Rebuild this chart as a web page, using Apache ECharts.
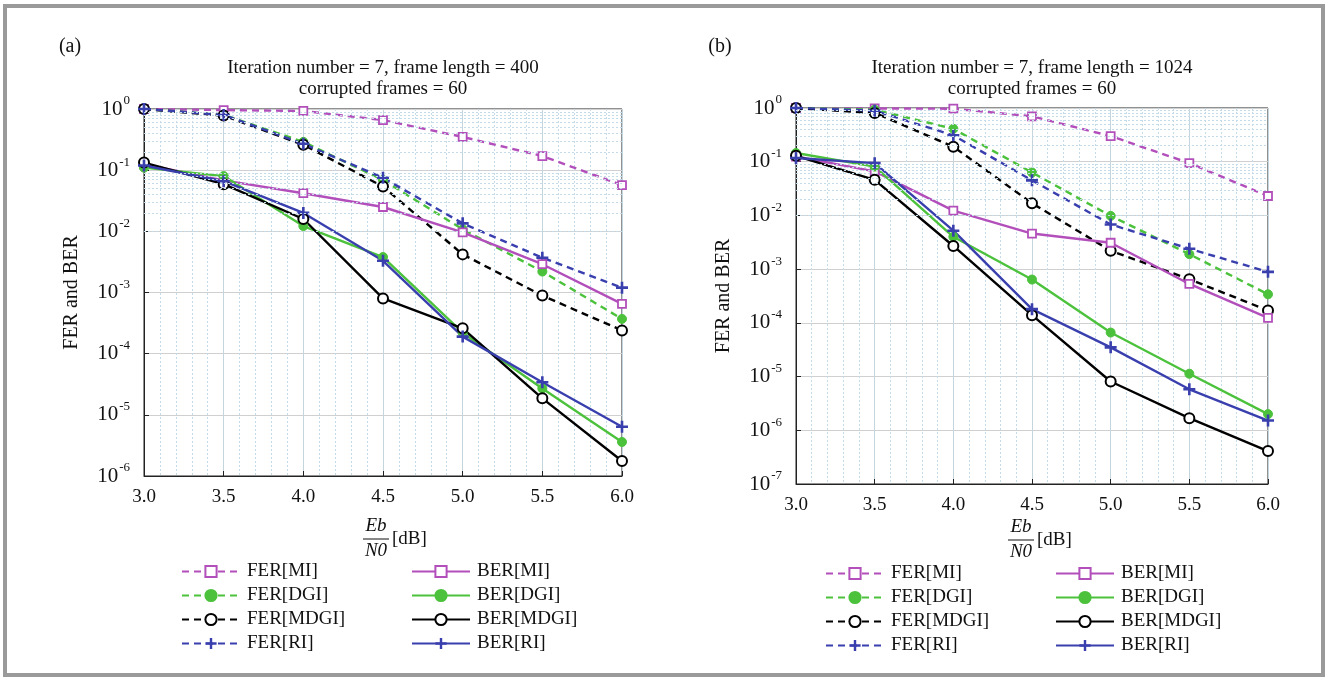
<!DOCTYPE html>
<html>
<head>
<meta charset="utf-8">
<script src="https://cdn.jsdelivr.net/npm/echarts@6/dist/echarts.min.js"></script>
<style>
  html, body { margin: 0; padding: 0; background: #fff; }
  #main { width: 1329px; height: 680px; }
</style>
</head>
<body>
<div id="main"></div>
<script>
// Eb/N0 in dB
var snr = [3.0, 3.5, 4.0, 4.5, 5.0, 5.5, 6.0];

// (a) frame length = 400
var aFerMI   = [1.0, 0.96, 0.93, 0.66, 0.35, 0.17, 0.057];
var aFerDGI  = [1.0, 0.80, 0.29, 0.069, 0.0108, 0.0022, 3.7e-4];
var aFerMDGI = [1.0, 0.78, 0.26, 0.054, 0.0042, 8.9e-4, 2.4e-4];
var aFerRI   = [1.0, 0.80, 0.27, 0.075, 0.0135, 0.0037, 0.0012];
var aBerMI   = [0.125, 0.068, 0.042, 0.025, 0.0096, 0.0029, 6.5e-4];
var aBerDGI  = [0.11, 0.080, 0.0122, 0.0038, 2.2e-4, 2.7e-5, 3.6e-6];
var aBerMDGI = [0.133, 0.059, 0.0159, 8.0e-4, 2.6e-4, 1.86e-5, 1.76e-6];
var aBerRI   = [0.119, 0.066, 0.020, 0.0033, 1.9e-4, 3.4e-5, 6.4e-6];

// (b) frame length = 1024
var bFerMI   = [1.0, 0.98, 0.97, 0.70, 0.30, 0.094, 0.023];
var bFerDGI  = [1.0, 0.93, 0.41, 0.063, 0.0098, 0.0019, 3.4e-4];
var bFerMDGI = [1.0, 0.81, 0.19, 0.0169, 0.0022, 6.5e-4, 1.7e-4];
var bFerRI   = [1.0, 0.89, 0.31, 0.045, 0.0068, 0.0024, 8.9e-4];
var bBerMI   = [0.125, 0.066, 0.0123, 0.0046, 0.0031, 5.3e-4, 1.24e-4];
var bBerDGI  = [0.145, 0.081, 0.0040, 6.4e-4, 6.6e-5, 1.13e-5, 2.0e-6];
var bBerMDGI = [0.129, 0.046, 0.0027, 1.39e-4, 8.1e-6, 1.68e-6, 4.1e-7];
var bBerRI   = [0.117, 0.094, 0.0052, 1.8e-4, 3.5e-5, 5.8e-6, 1.52e-6];

var ferNames = ['FER[MI]', 'FER[DGI]', 'FER[MDGI]', 'FER[RI]'];
var berNames = ['BER[MI]', 'BER[DGI]', 'BER[MDGI]', 'BER[RI]'];

var serif = 'Liberation Serif';
var magenta = '#b24fbb', green = '#4cc23c', black = '#000000', blue = '#3a3fae';
var plusPath = 'path://M-1.3,-6 h2.6 v4.7 h4.7 v2.6 h-4.7 v4.7 h-2.6 v-4.7 h-4.7 v-2.6 h4.7 z';

var styles = {
  MI:   { color: magenta, symbol: 'rect', size: 8, fill: '#ffffff', bw: 1.8 },
  DGI:  { color: green, symbol: 'circle', size: 9, fill: green, bw: 1 },
  MDGI: { color: black, symbol: 'circle', size: 10, fill: '#ffffff', bw: 2 },
  RI:   { color: blue, symbol: plusPath, size: 12, fill: blue, bw: 0 }
};

function pairs(vals) {
  return snr.map(function (x, i) { return [x, vals[i]]; });
}

function line(name, key, vals, dashed, idx) {
  var s = styles[key];
  return {
    name: name,
    type: 'line',
    xAxisIndex: idx,
    yAxisIndex: idx,
    data: pairs(vals),
    symbol: s.symbol,
    symbolSize: s.size,
    showAllSymbol: true,
    color: s.color,
    itemStyle: { color: s.fill, borderColor: s.color, borderWidth: s.bw },
    lineStyle: { color: s.color, width: 2.4, type: dashed ? [7, 5] : 'solid' },
    emphasis: { disabled: true },
    z: dashed ? 3 : 4
  };
}

// dotted minor grid at 2..9 of each decade
function minorLines(lo) {
  var out = [];
  for (var e = lo; e < 0; e++) {
    for (var m = 2; m <= 9; m++) out.push({ yAxis: m * Math.pow(10, e) });
  }
  return out;
}

function gridHolder(idx, lo) {
  return {
    name: 'grid' + idx,
    type: 'line',
    xAxisIndex: idx,
    yAxisIndex: idx,
    data: [],
    silent: true,
    markLine: {
      silent: true,
      symbol: 'none',
      label: { show: false },
      lineStyle: { color: '#c4dbe9', type: [2, 2], width: 1 },
      animation: false,
      data: minorLines(lo)
    }
  };
}

function xAxisCfg(idx) {
  return {
    type: 'value', gridIndex: idx, min: 3, max: 6, interval: 0.5,
    axisLine: { lineStyle: { color: '#222', width: 1 } },
    axisTick: { inside: true, length: 5, lineStyle: { color: '#222' } },
    minorTick: { show: false, splitNumber: 5 },
    axisLabel: {
      fontFamily: serif, fontSize: 19, color: '#111', margin: 12,
      formatter: function (v) { return v.toFixed(1); }
    },
    splitLine: { show: true, lineStyle: { color: '#c5d5de', width: 1 } },
    minorSplitLine: { show: true, lineStyle: { color: '#c4dbe9', type: [2, 2], width: 1 } }
  };
}

function yAxisCfg(idx, lo) {
  return {
    type: 'log', logBase: 10, gridIndex: idx,
    min: Math.pow(10, lo), max: 1, splitNumber: -lo,
    name: 'FER and BER', nameLocation: 'middle', nameRotate: 90, nameGap: 62,
    nameTextStyle: { fontFamily: serif, fontSize: 20, color: '#111' },
    axisLine: { show: true, lineStyle: { color: '#222', width: 1 } },
    axisTick: { inside: true, length: 5, lineStyle: { color: '#222' } },
    axisLabel: {
      margin: 14,
      formatter: function (v) {
        var e = Math.round(Math.log(v) / Math.LN10);
        return '{b|10}{s|' + e + '}';
      },
      rich: {
        b: { fontFamily: serif, fontSize: 21, color: '#111' },
        s: { fontFamily: serif, fontSize: 13, color: '#111', padding: [0, 0, 16, 1] }
      }
    },
    splitLine: { show: true, lineStyle: { color: '#d0d0d0', width: 1 } }
  };
}

function legendCfg(names, left, top) {
  return {
    orient: 'vertical', left: left, top: top,
    data: names, itemWidth: 58, itemHeight: 14, itemGap: 5,
    textStyle: { fontFamily: serif, fontSize: 19, color: '#111', padding: [0, 0, 0, 2] },
    selectedMode: false
  };
}

function txt(x, y, s, opt) {
  opt = opt || {};
  return {
    type: 'text', x: x, y: y, silent: true,
    style: {
      text: s, fill: '#111', fontFamily: serif,
      fontSize: opt.size || 19, fontStyle: opt.italic ? 'italic' : 'normal',
      textAlign: opt.align || 'center', textVerticalAlign: 'middle'
    }
  };
}

function fraction(cx, y) {
  return [
    txt(cx, y - 13, 'Eb', { italic: true, size: 19 }),
    { type: 'line', silent: true, shape: { x1: cx - 13, y1: y, x2: cx + 13, y2: y }, style: { stroke: '#111', lineWidth: 1 } },
    txt(cx, y + 12, 'N0', { italic: true, size: 19 }),
    txt(cx + 16, y, '[dB]', { align: 'left', size: 19 })
  ];
}

var series = [
  gridHolder(0, -6), gridHolder(1, -7),
  line('FER[MI]', 'MI', aFerMI, true, 0),
  line('FER[DGI]', 'DGI', aFerDGI, true, 0),
  line('FER[MDGI]', 'MDGI', aFerMDGI, true, 0),
  line('FER[RI]', 'RI', aFerRI, true, 0),
  line('BER[MI]', 'MI', aBerMI, false, 0),
  line('BER[DGI]', 'DGI', aBerDGI, false, 0),
  line('BER[MDGI]', 'MDGI', aBerMDGI, false, 0),
  line('BER[RI]', 'RI', aBerRI, false, 0),
  line('FER[MI]', 'MI', bFerMI, true, 1),
  line('FER[DGI]', 'DGI', bFerDGI, true, 1),
  line('FER[MDGI]', 'MDGI', bFerMDGI, true, 1),
  line('FER[RI]', 'RI', bFerRI, true, 1),
  line('BER[MI]', 'MI', bBerMI, false, 1),
  line('BER[DGI]', 'DGI', bBerDGI, false, 1),
  line('BER[MDGI]', 'MDGI', bBerMDGI, false, 1),
  line('BER[RI]', 'RI', bBerRI, false, 1)
];

var chart = echarts.init(document.getElementById('main'));
chart.setOption({
  animation: false,
  backgroundColor: '#ffffff',
  grid: [
    { left: 144, top: 109, width: 478, height: 367, show: true, borderColor: '#222', borderWidth: 1, backgroundColor: 'transparent' },
    { left: 796, top: 108, width: 472, height: 376, show: true, borderColor: '#222', borderWidth: 1, backgroundColor: 'transparent' }
  ],
  xAxis: [xAxisCfg(0), xAxisCfg(1)],
  yAxis: [yAxisCfg(0, -6), yAxisCfg(1, -7)],
  legend: [
    legendCfg(ferNames, 176, 557),
    legendCfg(berNames, 406, 557),
    legendCfg(ferNames, 820, 559),
    legendCfg(berNames, 1050, 559)
  ],
  graphic: [
    { type: 'rect', silent: true, shape: { x: 5, y: 6, width: 1318, height: 669 }, style: { fill: 'none', stroke: '#9a9a9a', lineWidth: 4 } },
    txt(70, 47, '(a)', { size: 20 }),
    txt(720, 47, '(b)', { size: 20 }),
    txt(383, 68, 'Iteration number = 7, frame length = 400'),
    txt(383, 89, 'corrupted frames = 60'),
    txt(1032, 68, 'Iteration number = 7, frame length = 1024'),
    txt(1032, 89, 'corrupted frames = 60')
  ].concat(fraction(376, 539)).concat(fraction(1021, 540)),
  series: series
});
</script>
</body>
</html>
